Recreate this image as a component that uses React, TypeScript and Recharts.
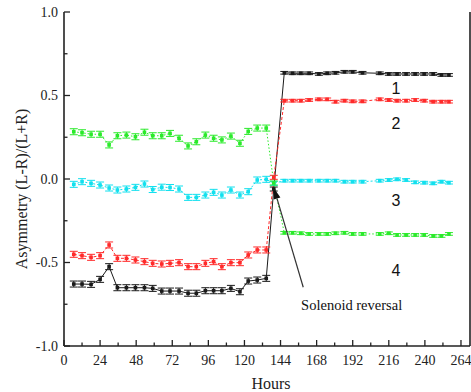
import React from 'react';
import { ComposedChart, Line, XAxis, YAxis, ErrorBar, ReferenceDot, ReferenceLine } from 'recharts';

// hours of each run, before the reversal, the reversal point, after it
const hoursBefore = [6.5, 12, 18, 24, 30, 35.5, 41.5, 47.5, 53.5, 59, 65, 70.5, 76.5, 82.5, 88, 94, 99.5, 105, 111, 117, 122.5, 128.5, 134.5];
const hoursReversal = [139.5];
const hoursAfter = [146.5, 152, 157.5, 163, 169.5, 175, 180.5, 186.5, 192, 198.5, 210, 216, 221.5, 227.5, 233.5, 239.5, 245.5, 251, 256];
const hours = [...hoursBefore, ...hoursReversal, ...hoursAfter];

// asymmetry (L-R)/(L+R)
const run1Black = [
  -0.629, -0.629, -0.631, -0.601, -0.525, -0.651, -0.651, -0.651, -0.651, -0.655, -0.671, -0.671,
  -0.671, -0.684, -0.684, -0.669, -0.669, -0.669, -0.655, -0.675, -0.611, -0.605, -0.595,
  -0.06,
  0.636, 0.633, 0.633, 0.633, 0.629, 0.633, 0.636, 0.642, 0.642, 0.636, 0.633, 0.629, 0.629, 0.629,
  0.629, 0.629, 0.629, 0.623, 0.623,
];
const run2Red = [
  -0.451, -0.459, -0.469, -0.459, -0.395, -0.475, -0.475, -0.485, -0.495, -0.505, -0.509, -0.505,
  -0.501, -0.525, -0.525, -0.505, -0.495, -0.525, -0.501, -0.501, -0.455, -0.425, -0.425,
  0.01,
  0.469, 0.469, 0.469, 0.473, 0.477, 0.477, 0.463, 0.469, 0.465, 0.465, 0.477, 0.473, 0.469, 0.469,
  0.473, 0.469, 0.463, 0.463, 0.463,
];
const run3Cyan = [
  -0.032, -0.016, -0.026, -0.036, -0.054, -0.066, -0.06, -0.05, -0.03, -0.063, -0.049, -0.051,
  -0.06, -0.11, -0.11, -0.096, -0.08, -0.096, -0.066, -0.096, -0.076, -0.006, -0.002,
  -0.026,
  -0.01, -0.01, -0.01, -0.01, -0.01, -0.01, -0.01, -0.016, -0.016, -0.016, -0.01, -0.006, -0.002, -0.006,
  -0.02, -0.022, -0.026, -0.016, -0.022,
];
const run4Green = [
  0.283, 0.277, 0.268, 0.268, 0.204, 0.259, 0.263, 0.253, 0.28, 0.259, 0.259, 0.273,
  0.244, 0.198, 0.223, 0.263, 0.244, 0.234, 0.257, 0.214, 0.285, 0.305, 0.305,
  -0.024,
  -0.322, -0.322, -0.325, -0.329, -0.329, -0.329, -0.325, -0.322, -0.329, -0.329, -0.329, -0.325, -0.335, -0.335,
  -0.335, -0.335, -0.341, -0.341, -0.329,
];
// error bar half heights
const errs = [
  0.018, 0.018, 0.018, 0.018, 0.018, 0.018, 0.018, 0.018, 0.018, 0.018, 0.018, 0.018,
  0.018, 0.018, 0.018, 0.018, 0.018, 0.018, 0.018, 0.018, 0.018, 0.018, 0.018,
  0.012,
  0.008, 0.008, 0.008, 0.008, 0.008, 0.008, 0.008, 0.008, 0.008, 0.008, 0.008, 0.008, 0.008, 0.008,
  0.008, 0.008, 0.008, 0.008, 0.008,
];

const xTicks = [0, 12, 24, 36, 48, 60, 72, 84, 96, 108, 120, 132, 144, 156, 168, 180, 192, 204, 216, 228, 240, 252, 264];
const xLabels = [0, 24, 48, 72, 96, 120, 144, 168, 192, 216, 240, 264];
const yTicks = [-1, -0.75, -0.5, -0.25, 0, 0.25, 0.5, 0.75, 1];
const yLabels = [-1, -0.5, 0, 0.5, 1];

const data = hours.map((h, i) => ({
  hour: h,
  black: run1Black[i],
  red: run2Red[i],
  cyan: run3Cyan[i],
  green: run4Green[i],
  err: errs[i],
}));

const PLOT = { left: 64, top: 12, right: 470, bottom: 346 };
const SERIF = "'Liberation Serif', 'Times New Roman', serif";
const SANS = "'Liberation Sans', Arial, sans-serif";
const AXIS = '#222';

const BottomTick = (p: any) => {
  const v = p.payload.value;
  const major = xLabels.includes(v);
  return (
    <g>
      <line x1={p.x} x2={p.x} y1={PLOT.bottom} y2={PLOT.bottom - (major ? 6 : 3.5)} stroke={AXIS} strokeWidth={1.3} />
      {major && (
        <text x={p.x} y={365} textAnchor="middle" fontSize={14} fontFamily={SERIF} fill={AXIS}>{v}</text>
      )}
    </g>
  );
};

const TopTick = (p: any) => {
  const major = xLabels.includes(p.payload.value);
  return <line x1={p.x} x2={p.x} y1={PLOT.top} y2={PLOT.top + (major ? 6 : 3.5)} stroke={AXIS} strokeWidth={1.3} />;
};

const LeftTick = (p: any) => {
  const v = p.payload.value;
  const major = yLabels.includes(v);
  return (
    <g>
      <line x1={PLOT.left} x2={PLOT.left + (major ? 6 : 3.5)} y1={p.y} y2={p.y} stroke={AXIS} strokeWidth={1.3} />
      {major && (
        <text x={58} y={p.y} dy={4.5} textAnchor="end" fontSize={14} fontFamily={SERIF} fill={AXIS}>{v.toFixed(1)}</text>
      )}
    </g>
  );
};

const RightTick = (p: any) => {
  const major = yLabels.includes(p.payload.value);
  return <line x1={PLOT.right} x2={PLOT.right - (major ? 6 : 3.5)} y1={p.y} y2={p.y} stroke={AXIS} strokeWidth={1.3} />;
};

const YTitle = () => (
  <text transform="translate(27,189) rotate(-90)" textAnchor="middle" fontSize={16} fontFamily={SERIF} fill={AXIS}>
    Asymmetry (L-R)/(L+R)
  </text>
);

const XTitle = () => (
  <text x={271} y={389} textAnchor="middle" fontSize={16} fontFamily={SERIF} fill={AXIS}>Hours</text>
);

const squareDot = (color: string) => (p: any) => (
  <rect key={`d-${p.index}`} x={p.cx - 1.8} y={p.cy - 1.8} width={3.6} height={3.6} fill={color} />
);

const Arrow = (p: any) => {
  const { x1, y1, x2, y2 } = p;
  const ang = Math.atan2(y2 - y1, x2 - x1);
  const len = 11;
  const w = 3.5;
  const bx = x2 - len * Math.cos(ang);
  const by = y2 - len * Math.sin(ang);
  const nx = -Math.sin(ang) * w;
  const ny = Math.cos(ang) * w;
  return (
    <g>
      <line x1={x1} y1={y1} x2={bx} y2={by} stroke="#333" strokeWidth={1.2} />
      <polygon points={`${x2},${y2} ${bx + nx},${by + ny} ${bx - nx},${by - ny}`} fill="#111" />
    </g>
  );
};

const textShape = (txt: string, font: string, size: number) => (p: any) => (
  <text x={p.cx} y={p.cy} dy={size * 0.35} textAnchor="middle" fontSize={size} fontFamily={font} fill="#111">{txt}</text>
);

const series = [
  { key: 'black', color: '#1a1a1a', dash: undefined },
  { key: 'red', color: '#ff2a2a', dash: '3 2' },
  { key: 'cyan', color: '#12e0ee', dash: '2 2' },
  { key: 'green', color: '#2aea2a', dash: '1.5 2' },
];

export default function App() {
  return (
    <div style={{ width: 471, height: 392, background: '#fff' }}>
      <style>{'body{margin:0}'}</style>
      <ComposedChart width={471} height={392} data={data} margin={{ top: 12, right: 0, bottom: 0, left: 0 }}>
        <XAxis
          dataKey="hour"
          type="number"
          domain={[0, 270]}
          ticks={xTicks}
          interval={0}
          height={46}
          axisLine={{ stroke: AXIS, strokeWidth: 1.6 }}
          tickLine={false}
          tick={<BottomTick />}
          label={<XTitle />}
        />
        <XAxis
          xAxisId="top"
          dataKey="hour"
          type="number"
          orientation="top"
          domain={[0, 270]}
          ticks={xTicks}
          interval={0}
          height={0}
          axisLine={{ stroke: AXIS, strokeWidth: 1.6 }}
          tickLine={false}
          tick={<TopTick />}
        />
        <YAxis
          type="number"
          domain={[-1, 1]}
          ticks={yTicks}
          interval={0}
          width={64}
          axisLine={{ stroke: AXIS, strokeWidth: 1.6 }}
          tickLine={false}
          tick={<LeftTick />}
          label={<YTitle />}
        />
        <YAxis
          yAxisId="right"
          orientation="right"
          type="number"
          domain={[-1, 1]}
          ticks={yTicks}
          interval={0}
          width={1}
          axisLine={{ stroke: AXIS, strokeWidth: 1.6 }}
          tickLine={false}
          tick={<RightTick />}
        />
        {series.map((s) => (
          <Line
            key={s.key}
            dataKey={s.key}
            type="linear"
            stroke={s.color}
            strokeWidth={1}
            strokeDasharray={s.dash}
            dot={squareDot(s.color)}
            activeDot={false}
            isAnimationActive={false}
          >
            <ErrorBar dataKey="err" width={4} stroke={s.color} strokeWidth={1} direction="y" isAnimationActive={false} />
          </Line>
        ))}
        <ReferenceLine segment={[{ x: 159.1, y: -0.648 }, { x: 139.6, y: -0.054 }]} shape={<Arrow />} />
        <ReferenceDot x={220.7} y={0.545} r={1} shape={textShape('1', SANS, 16)} />
        <ReferenceDot x={220.7} y={0.335} r={1} shape={textShape('2', SANS, 16)} />
        <ReferenceDot x={220.7} y={-0.126} r={1} shape={textShape('3', SANS, 16)} />
        <ReferenceDot x={220.7} y={-0.545} r={1} shape={textShape('4', SANS, 16)} />
        <ReferenceDot x={191.3} y={-0.754} r={1} shape={textShape('Solenoid reversal', SERIF, 14.5)} />
      </ComposedChart>
    </div>
  );
}
